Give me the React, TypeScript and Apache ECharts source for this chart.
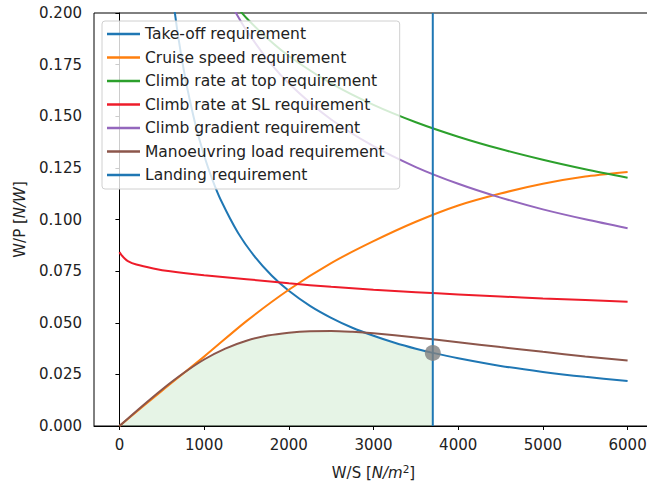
import React, { useEffect, useRef } from 'react';
import * as echarts from 'echarts';

const xTicks = [0, 1000, 2000, 3000, 4000, 5000, 6000];

const takeoffWS = [600, 650, 700, 750, 800, 900, 1000, 1100, 1200, 1400, 1600, 1800, 2000, 2250, 2500, 2750, 3000, 3250, 3500, 3700, 4000, 4500, 5000, 5500, 6000];
const takeoffWP = [0.2183, 0.2015, 0.1871, 0.1747, 0.1638, 0.1456, 0.131, 0.1191, 0.1092, 0.0936, 0.0819, 0.0728, 0.0655, 0.0582, 0.0524, 0.0476, 0.0437, 0.0403, 0.0374, 0.0354, 0.0328, 0.0291, 0.0262, 0.0238, 0.0218];

const cruiseWS = [0, 500, 1000, 1500, 2000, 2500, 3000, 3500, 4000, 4500, 5000, 5500, 6000];
const cruiseWP = [0, 0.017, 0.0336, 0.0508, 0.066, 0.0789, 0.0895, 0.0989, 0.1068, 0.1126, 0.1173, 0.1208, 0.123];

const climbTopWS = [1350, 1500, 1750, 2000, 2500, 3000, 3500, 4000, 4500, 5000, 5500, 6000];
const climbTopWP = [0.2046, 0.1976, 0.1876, 0.1792, 0.1659, 0.1555, 0.1471, 0.1401, 0.1341, 0.1289, 0.1243, 0.1202];

const climbSLWS = [0, 25, 50, 100, 200, 400, 600, 1000, 1500, 2000, 2500, 3000, 3500, 4000, 4500, 5000, 5500, 6000];
const climbSLWP = [0.0842, 0.0827, 0.0816, 0.0799, 0.0782, 0.0763, 0.0749, 0.073, 0.0711, 0.0691, 0.0674, 0.066, 0.0648, 0.0637, 0.0627, 0.0618, 0.061, 0.0602];

const gradientWS = [1300, 1400, 1500, 1750, 2000, 2500, 3000, 3500, 4000, 4500, 5000, 5500, 6000];
const gradientWP = [0.2058, 0.1983, 0.1916, 0.1774, 0.1659, 0.1484, 0.1355, 0.1254, 0.1173, 0.1106, 0.1049, 0.1001, 0.0958];

const manoeuvreWS = [0, 250, 500, 750, 1000, 1250, 1500, 1750, 2000, 2250, 2500, 2750, 3000, 3500, 4000, 4500, 5000, 5500, 6000];
const manoeuvreWP = [0, 0.009, 0.0176, 0.0254, 0.0322, 0.0375, 0.0413, 0.0438, 0.0452, 0.0459, 0.046, 0.0456, 0.0449, 0.0429, 0.0406, 0.0382, 0.0359, 0.0337, 0.0317];

const landingWS = 3700;
const designWS = 3700;
const designWP = 0.0354;

const FONT = 'DejaVu Sans';
const TXT = '#222';

function pairs(xs: number[], ys: number[]) {
  return xs.map((x, i) => [x, ys[i]]);
}

function interp(xs: number[], ys: number[], x: number): number | null {
  if (x < xs[0] || x > xs[xs.length - 1]) return null;
  for (let i = 0; i < xs.length - 1; i++) {
    if (x >= xs[i] && x <= xs[i + 1]) {
      const t = (x - xs[i]) / (xs[i + 1] - xs[i]);
      return ys[i] + t * (ys[i + 1] - ys[i]);
    }
  }
  return ys[ys.length - 1];
}

const allCurves: [number[], number[]][] = [
  [takeoffWS, takeoffWP],
  [cruiseWS, cruiseWP],
  [climbTopWS, climbTopWP],
  [climbSLWS, climbSLWP],
  [gradientWS, gradientWP],
  [manoeuvreWS, manoeuvreWP],
];

function feasibleRegion() {
  const out: number[][] = [];
  for (let x = 0; x <= landingWS; x += 25) {
    let m = Infinity;
    for (const [xs, ys] of allCurves) {
      const v = interp(xs, ys, x);
      if (v !== null && v < m) m = v;
    }
    out.push([x, m]);
  }
  return out;
}

function line(name: string, color: string, data: number[][], z = 3) {
  return {
    name,
    type: 'line',
    data,
    smooth: 0.3,
    symbol: 'none',
    showSymbol: false,
    z,
    clip: true,
    itemStyle: { color },
    lineStyle: { color, width: 2 },
  };
}

export default function App() {
  const ref = useRef<HTMLDivElement>(null);
  useEffect(() => {
    if (!ref.current) return;
    const chart = echarts.init(ref.current, null, { renderer: 'svg' });
    const names = [
      'Take-off requirement',
      'Cruise speed requirement',
      'Climb rate at top requirement',
      'Climb rate at SL requirement',
      'Climb gradient requirement',
      'Manoeuvring load requirement',
      'Landing requirement',
    ];
    chart.setOption({
      animation: false,
      backgroundColor: '#fff',
      textStyle: { fontFamily: FONT },
      grid: {
        left: 94,
        top: 13,
        width: 559,
        height: 415,
        show: true,
        borderColor: '#000',
        borderWidth: 1,
        backgroundColor: 'transparent',
      },
      legend: {
        data: names,
        orient: 'vertical',
        left: 102,
        top: 21,
        align: 'left',
        icon: 'rect',
        itemWidth: 33,
        itemHeight: 2.5,
        itemGap: 7.5,
        itemTextGap: 13,
        padding: [5, 15, 6, 5],
        backgroundColor: 'rgba(255,255,255,0.8)',
        borderColor: '#d0d0d0',
        borderWidth: 1,
        borderRadius: 3,
        selectedMode: false,
        textStyle: { fontFamily: FONT, fontSize: 15.5, color: TXT },
      },
      xAxis: {
        type: 'value',
        min: -300,
        max: 6300,
        splitLine: { show: false },
        axisLine: { show: true, onZero: false, lineStyle: { color: '#000', width: 1 } },
        axisTick: { show: true, customValues: xTicks, length: 4, lineStyle: { color: '#000' } },
        axisLabel: {
          customValues: xTicks,
          fontSize: 15,
          color: TXT,
          margin: 11,
          fontFamily: FONT,
          formatter: (v: number) => String(v),
        },
        name: '{n|W/S [}{i|N/m}{s|2}{n|]}',
        nameLocation: 'middle',
        nameGap: 37,
        nameTextStyle: {
          fontFamily: FONT,
          fontSize: 15,
          color: TXT,
          rich: {
            n: { fontFamily: FONT, fontSize: 15, color: TXT },
            i: { fontFamily: FONT, fontSize: 15, color: TXT, fontStyle: 'italic' },
            s: { fontFamily: FONT, fontSize: 10.5, color: TXT, verticalAlign: 'top', padding: [0, 0, 8, 0] },
          },
        },
      },
      yAxis: {
        type: 'value',
        min: 0,
        max: 0.2,
        interval: 0.025,
        splitLine: { show: false },
        axisLine: { show: true, lineStyle: { color: '#000', width: 1 } },
        axisTick: { show: true, length: 4, lineStyle: { color: '#000' } },
        axisLabel: {
          fontSize: 15,
          color: TXT,
          margin: 12,
          fontFamily: FONT,
          formatter: (v: number) => v.toFixed(3),
        },
        name: '{n|W/P [}{i|N/W}{n|]}',
        nameLocation: 'middle',
        nameGap: 67,
        nameRotate: 90,
        nameTextStyle: {
          fontFamily: FONT,
          fontSize: 15,
          color: TXT,
          rich: {
            n: { fontFamily: FONT, fontSize: 15, color: TXT },
            i: { fontFamily: FONT, fontSize: 15, color: TXT, fontStyle: 'italic' },
          },
        },
      },
      series: [
        {
          name: 'feasible',
          type: 'line',
          data: feasibleRegion(),
          symbol: 'none',
          showSymbol: false,
          lineStyle: { width: 0, opacity: 0 },
          areaStyle: { color: 'rgba(44,160,44,0.17)', origin: 'start' },
          z: 1,
          silent: true,
        },
        line(names[0], '#1f77b4', pairs(takeoffWS, takeoffWP)),
        line(names[1], '#ff7f0e', pairs(cruiseWS, cruiseWP)),
        line(names[2], '#2ca02c', pairs(climbTopWS, climbTopWP)),
        line(names[3], '#ee1c2a', pairs(climbSLWS, climbSLWP)),
        line(names[4], '#9467bd', pairs(gradientWS, gradientWP)),
        line(names[5], '#8c564b', pairs(manoeuvreWS, manoeuvreWP)),
        {
          name: names[6],
          type: 'line',
          data: [[landingWS, 0], [landingWS, 0.2]],
          symbol: 'none',
          showSymbol: false,
          itemStyle: { color: '#1f77b4' },
          lineStyle: { color: '#1f77b4', width: 2 },
          z: 3,
        },
        {
          name: 'design point',
          type: 'scatter',
          data: [[designWS, designWP]],
          symbolSize: 16,
          itemStyle: { color: '#808080' },
          z: 5,
        },
      ],
    });
    return () => chart.dispose();
  }, []);
  return (
    <div
      ref={ref}
      style={{ position: 'fixed', left: 0, top: 0, width: 660, height: 485, background: '#fff' }}
    />
  );
}
